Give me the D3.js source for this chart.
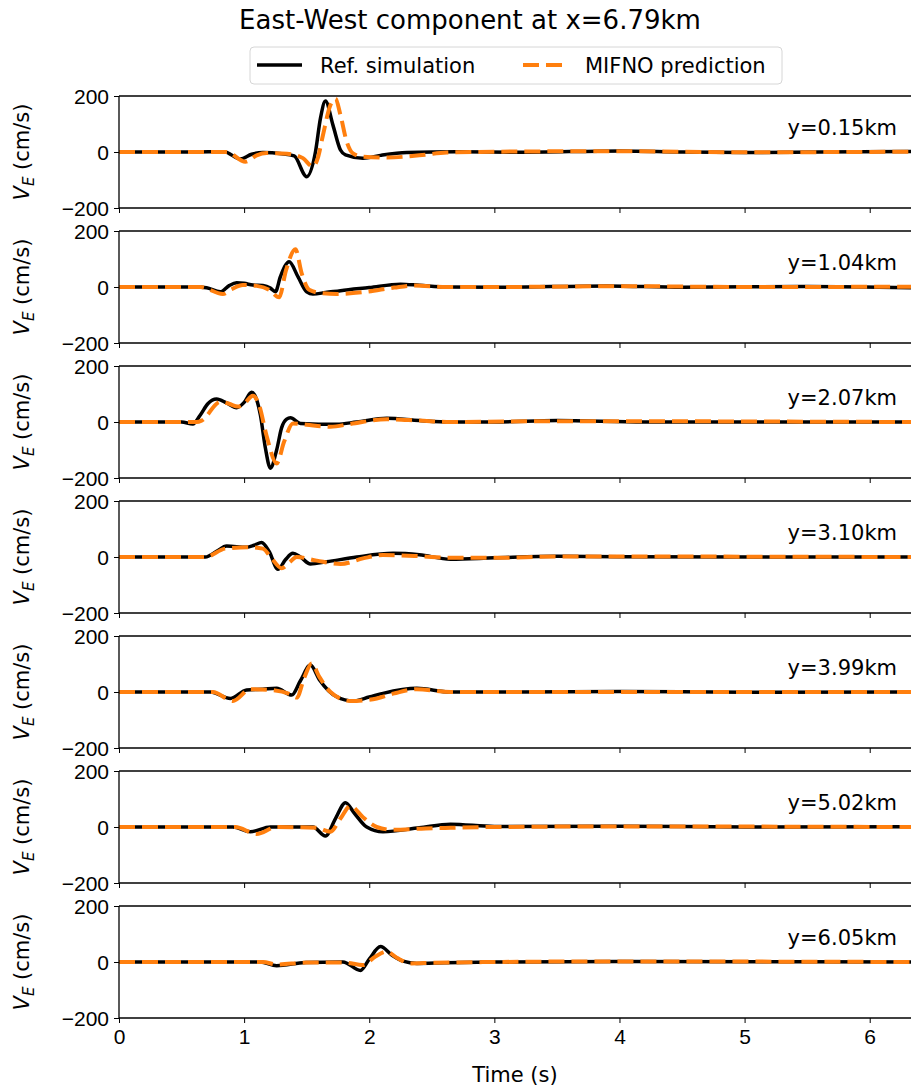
<!DOCTYPE html>
<html>
<head>
<meta charset="utf-8">
<script src="https://cdn.jsdelivr.net/npm/d3@7"></script>
<style>
  body { margin: 0; background: #fff; }
  svg { font-family: "DejaVu Sans", sans-serif; }
</style>
</head>
<body>
<div id="chart"></div>
<script>
// station labels, one per panel
var stations = ['y=0.15km', 'y=1.04km', 'y=2.07km', 'y=3.10km', 'y=3.99km', 'y=5.02km', 'y=6.05km']

// reference simulation, [time (s), V_E (cm/s)] per panel
var refTraces = [
  [[0,0],[0.6,0],[0.84,1],[0.97,-25],[1.06,-8],[1.15,-2],[1.3,-6],[1.4,-14],[1.5,-88],[1.57,0],[1.61,120],[1.65,182],[1.71,96],[1.77,7],[1.81,-10],[1.95,-22],[2.09,-12],[2.3,-2],[2.7,1],[3.2,-1],[4.0,4],[4.5,0],[5.0,-2],[5.6,0],[6.33,2]],
  [[0,0],[0.62,0],[0.7,-3],[0.81,-17],[0.88,5],[0.94,15],[1.0,13],[1.07,7],[1.15,5],[1.21,-4],[1.25,-17],[1.29,37],[1.36,90],[1.43,37],[1.5,-17],[1.55,-25],[1.65,-20],[1.77,-13],[2.0,-2],[2.25,10],[2.4,6],[2.62,0],[3.0,-1],[3.9,4],[4.5,-1],[5.5,2],[6.33,-3]],
  [[0,0],[0.5,0],[0.59,-7],[0.65,25],[0.71,65],[0.78,82],[0.86,68],[0.94,51],[1.0,70],[1.06,106],[1.1,80],[1.13,25],[1.17,-93],[1.21,-165],[1.26,-100],[1.3,-20],[1.34,10],[1.37,15],[1.45,-5],[1.74,-8],[1.9,0],[2.14,13],[2.4,5],[2.65,0],[3.0,0],[3.5,5],[4.2,0],[6.33,0]],
  [[0,0],[0.69,0],[0.78,20],[0.86,39],[1.02,35],[1.08,42],[1.14,52],[1.2,20],[1.27,-44],[1.33,-10],[1.39,13],[1.45,0],[1.53,-25],[1.66,-17],[1.9,0],[2.19,13],[2.4,8],[2.65,-8],[3.0,-3],[3.5,3],[4,1],[6.33,0]],
  [[0,0],[0.73,0],[0.89,-23],[1.02,7],[1.15,10],[1.26,13],[1.38,-11],[1.45,40],[1.53,96],[1.6,45],[1.74,-17],[1.87,-32],[2.0,-18],[2.11,-5],[2.38,13],[2.65,0],[3.2,0],[4,2],[5,-1],[6.33,0]],
  [[0,0],[0.91,0],[1.05,-17],[1.21,0],[1.55,0],[1.65,-32],[1.73,30],[1.81,87],[1.88,50],[1.98,0],[2.11,-17],[2.4,-3],[2.65,10],[3.0,2],[4,3],[5,0],[6.33,1]],
  [[0,0],[1.13,0],[1.26,-13],[1.49,-2],[1.79,0],[1.93,-30],[2.0,10],[2.09,55],[2.18,25],[2.27,3],[2.38,-5],[2.6,-3],[3,0],[4,2],[6.33,0]]
]

// MIFNO prediction, [time (s), V_E (cm/s)] per panel
var mifnoTraces = [
  [[0,0],[0.6,0],[0.86,0],[1.01,-35],[1.1,-12],[1.18,-4],[1.3,-5],[1.38,-8],[1.47,-22],[1.55,-52],[1.59,-20],[1.63,60],[1.69,168],[1.73,190],[1.77,132],[1.82,37],[1.87,-5],[1.95,-17],[2.14,-20],[2.4,-12],[2.62,-2],[3.0,1],[4.0,3],[5,-1],[6.33,1]],
  [[0,0],[0.65,0],[0.83,-25],[0.9,-8],[0.99,7],[1.1,4],[1.2,-10],[1.28,-37],[1.335,60],[1.41,135],[1.46,49],[1.52,-10],[1.62,-22],[1.74,-25],[1.98,-17],[2.2,-2],[2.35,5],[2.62,0],[3,0],[4,3],[5,0],[6.33,1]],
  [[0,0],[0.62,0],[0.66,5],[0.81,72],[0.88,65],[0.95,55],[1.0,65],[1.07,94],[1.12,60],[1.18,-50],[1.26,-148],[1.32,-70],[1.39,-5],[1.5,-10],[1.69,-17],[1.85,-7],[2.14,10],[2.4,5],[2.65,0],[3.5,3],[6.33,0]],
  [[0,0],[0.69,0],[0.85,30],[1.05,35],[1.15,30],[1.22,-5],[1.3,-40],[1.36,-20],[1.42,0],[1.58,-13],[1.77,-25],[1.95,-5],[2.11,7],[2.4,3],[2.65,-3],[3.0,-3],[3.5,2],[6.33,0]],
  [[0,0],[0.75,0],[0.91,-32],[1.05,10],[1.2,8],[1.37,-8],[1.42,-20],[1.48,50],[1.54,102],[1.6,55],[1.69,0],[1.85,-32],[2.06,-23],[2.2,-5],[2.38,10],[2.65,0],[6.33,0]],
  [[0,0],[0.93,0],[1.1,-25],[1.26,0],[1.58,-3],[1.69,-17],[1.77,30],[1.85,75],[1.95,35],[2.06,0],[2.19,-10],[2.45,-5],[2.65,-3],[3,0],[4,2],[6.33,0]],
  [[0,0],[1.15,0],[1.26,-9],[1.5,-2],[1.8,-2],[1.95,-11],[2.05,20],[2.14,37],[2.22,15],[2.33,-5],[2.5,-3],[3,0],[4,2],[6.33,0]]
]

var xTicks = [0, 1, 2, 3, 4, 5, 6]
var yTicks = [-200, 0, 200]
var timeRange = [0, 6.33]
var velRange = [-200, 200]

var W = 911, H = 1089
var margin = { left: 119, right: 0, top: 96 }
var panelH = 112, panelStep = 135
var width = W - margin.left - margin.right

var svg = d3.select('#chart').append('svg')
  .attr('width', W)
  .attr('height', H)

var xScale = d3.scaleLinear().domain(timeRange).range([0, width])
var yScale = d3.scaleLinear().domain(velRange).range([panelH, 0])

var line = d3.line()
  .x(function(d) { return xScale(d[0]) })
  .y(function(d) { return yScale(d[1]) })
  .curve(d3.curveMonotoneX)

// title
svg.append('text')
  .attr('x', 470)
  .attr('y', 29)
  .attr('text-anchor', 'middle')
  .style('font-size', '26px')
  .text('East-West component at x=6.79km')

// legend
var legend = svg.append('g').attr('transform', 'translate(250,47)')
legend.append('rect')
  .attr('width', 532).attr('height', 37)
  .attr('rx', 4)
  .attr('fill', '#fff')
  .attr('stroke', '#d6d6d6')
legend.append('line')
  .attr('x1', 7).attr('x2', 52).attr('y1', 18).attr('y2', 18)
  .attr('stroke', '#000').attr('stroke-width', 3.5)
legend.append('text')
  .attr('x', 70).attr('y', 26)
  .style('font-size', '21px')
  .text('Ref. simulation')
legend.append('line')
  .attr('x1', 273).attr('x2', 318).attr('y1', 18).attr('y2', 18)
  .attr('stroke', '#ff7f0e').attr('stroke-width', 4)
  .attr('stroke-dasharray', '16,7')
legend.append('text')
  .attr('x', 335).attr('y', 26)
  .style('font-size', '21px')
  .text('MIFNO prediction')

stations.forEach(function(label, i) {
  var top = margin.top + i * panelStep
  var g = svg.append('g').attr('transform', 'translate(' + margin.left + ',' + top + ')')

  var xAxis = d3.axisBottom(xScale).tickValues(xTicks).tickSize(5).tickSizeOuter(0).tickPadding(6)
    .tickFormat(d3.format('d'))
  if (i < stations.length - 1) xAxis.tickFormat('')
  var gx = g.append('g')
    .attr('transform', 'translate(0,' + panelH + ')')
    .call(xAxis)
  gx.select('.domain').remove()
  gx.selectAll('text').style('font-size', '21px').attr('fill', '#000')

  var gy = g.append('g')
    .call(d3.axisLeft(yScale).tickValues(yTicks).tickSize(5).tickSizeOuter(0).tickPadding(5))
  gy.select('.domain').remove()
  gy.selectAll('text').style('font-size', '21px').attr('fill', '#000')
  gy.selectAll('text').attr('dy', '0.35em')

  g.append('path')
    .attr('d', line(refTraces[i]))
    .attr('fill', 'none')
    .attr('stroke', '#000')
    .attr('stroke-width', 3.5)
    .attr('stroke-linejoin', 'round')

  g.append('path')
    .attr('d', line(mifnoTraces[i]))
    .attr('fill', 'none')
    .attr('stroke', '#ff7f0e')
    .attr('stroke-width', 4)
    .attr('stroke-dasharray', '16,7')

  // spines: top, bottom, left
  g.append('line').attr('x1', 0).attr('x2', width).attr('y1', 0).attr('y2', 0)
    .attr('stroke', '#000').attr('stroke-width', 1.3)
  g.append('line').attr('x1', 0).attr('x2', width).attr('y1', panelH).attr('y2', panelH)
    .attr('stroke', '#000').attr('stroke-width', 1.3)
  g.append('line').attr('x1', 0).attr('x2', 0).attr('y1', 0).attr('y2', panelH)
    .attr('stroke', '#000').attr('stroke-width', 1.3)

  g.append('text')
    .attr('x', 778)
    .attr('y', 39)
    .attr('text-anchor', 'end')
    .style('font-size', '21px')
    .text(label)

  var yl = svg.append('text')
    .attr('transform', 'translate(29,' + (top + panelH / 2) + ') rotate(-90)')
    .attr('text-anchor', 'middle')
    .style('font-size', '21px')
  yl.append('tspan').style('font-style', 'italic').text('V')
  yl.append('tspan').attr('dy', 5).style('font-size', '15px').style('font-style', 'italic').text('E')
  yl.append('tspan').attr('dy', -5).text(' (cm/s)')
})

svg.append('text')
  .attr('x', margin.left + width / 2)
  .attr('y', 1082)
  .attr('text-anchor', 'middle')
  .style('font-size', '21px')
  .text('Time (s)')
</script>
</body>
</html>
